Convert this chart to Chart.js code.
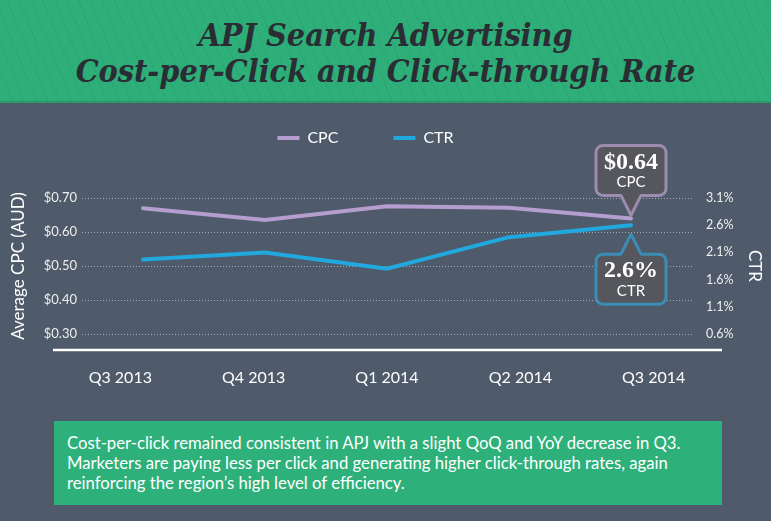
<!DOCTYPE html>
<html>
<head>
<meta charset="utf-8">
<title>APJ Search Advertising</title>
<script src="https://cdn.jsdelivr.net/npm/chart.js@4.4.0/dist/chart.umd.min.js"></script>
<style>
  html, body { margin: 0; padding: 0; width: 771px; height: 521px; overflow: hidden; background: #4f5a6a; font-family: Lato, "Open Sans", sans-serif; }
  #header {
    position: absolute; left: 0; top: 0; width: 771px; height: 101px;
    border-bottom: 2px solid #289a69;
    background-color: #2eae79;
    background-image: repeating-linear-gradient(68deg, rgba(0,0,0,0.05) 0 1px, transparent 1px 11px);
  }
  #header h1 {
    margin: 0; padding-top: 17px; text-align: center;
    font-family: "DejaVu Serif Condensed", "DejaVu Serif", serif;
    font-style: italic; font-weight: bold; font-size: 32px; line-height: 36px; color: #2a2d33;
  }
  #wrap { position: absolute; left: -40px; top: 75px; width: 811px; height: 340px; }
  #note {
    position: absolute; left: 54px; top: 421px; width: 668px; height: 84px; box-sizing: border-box;
    padding: 12px 0 0 13px; background: #2eb07a; color: #fff; font-size: 16.7px; line-height: 20px;
  }
</style>
</head>
<body>
<div id="header"><h1>APJ Search Advertising<br>Cost-per-Click and Click-through Rate</h1></div>
<div id="wrap"><canvas id="chart"></canvas></div>
<div id="note">Cost-per-click remained consistent in APJ with a slight QoQ and YoY decrease in Q3.<br>Marketers are paying less per click and generating higher click-through rates, again<br>reinforcing the region’s high level of efficiency.</div>
<script>
const quarters = ['Q3 2013', 'Q4 2013', 'Q1 2014', 'Q2 2014', 'Q3 2014'];
const cpc = [0.67, 0.635, 0.676, 0.671, 0.64];
const ctr = [1.97, 2.1, 1.8, 2.38, 2.6];
const cpcTicks = [0.3, 0.4, 0.5, 0.6, 0.7];
const ctrTicks = [0.6, 1.1, 1.6, 2.1, 2.6, 3.1];

// quarter labels sit a bit wider apart than the points
const labelSpread = 1.093;

function drawCallout(ctx, px, tipY, dir, border, big, small) {
  const w = 70, h = 50, r = 7, pw = 20, ph = 20;
  const x0 = px - w / 2, x1 = px + w / 2;
  const near = tipY + dir * ph;
  const far = near + dir * h;
  const top = Math.min(near, far);
  ctx.beginPath();
  ctx.moveTo(px, tipY);
  ctx.lineTo(px + pw / 2, near);
  ctx.arcTo(x1, near, x1, far, r);
  ctx.arcTo(x1, far, x0, far, r);
  ctx.arcTo(x0, far, x0, near, r);
  ctx.arcTo(x0, near, px, near, r);
  ctx.lineTo(px - pw / 2, near);
  ctx.closePath();
  ctx.fillStyle = '#55575d';
  ctx.fill();
  ctx.lineWidth = 3;
  ctx.lineJoin = 'round';
  ctx.strokeStyle = border;
  ctx.stroke();
  ctx.fillStyle = '#ffffff';
  ctx.textAlign = 'center';
  ctx.textBaseline = 'middle';
  ctx.font = 'bold 24px "Liberation Serif", serif';
  ctx.fillText(big, px, top + 17);
  ctx.font = '15px Lato, sans-serif';
  ctx.fillText(small, px, top + 37);
}

const callouts = {
  id: 'callouts',
  afterDatasetsDraw(chart) {
    const ctx = chart.ctx;
    const area = chart.chartArea;
    ctx.save();
    // white base line, wider than the plot
    ctx.strokeStyle = '#ffffff';
    ctx.lineWidth = 2.5;
    ctx.beginPath();
    ctx.moveTo(area.left - 29, area.bottom + 16);
    ctx.lineTo(area.right + 30, area.bottom + 16);
    ctx.stroke();

    const last = quarters.length - 1;
    const p1 = chart.getDatasetMeta(0).data[last];
    const p2 = chart.getDatasetMeta(1).data[last];
    drawCallout(ctx, p1.x, p1.y - 3, -1, '#9d8bb0', '$' + cpc[last].toFixed(2), 'CPC');
    drawCallout(ctx, p2.x, p2.y + 9, 1, '#3a8db5', ctr[last].toFixed(1) + '%', 'CTR');
    ctx.restore();
  }
};

const legendGap = {
  id: 'legendGap',
  beforeInit(chart) {
    const fit = chart.legend.fit;
    chart.legend.fit = function () {
      fit.bind(chart.legend)();
      this.height += 42;
    };
  }
};

new Chart(document.getElementById('chart'), {
  type: 'line',
  data: {
    labels: quarters,
    datasets: [{
      label: 'CPC',
      data: cpc,
      yAxisID: 'y',
      borderColor: '#b59ecf',
      backgroundColor: '#b59ecf',
      borderWidth: 4,
      borderCapStyle: 'round',
      pointRadius: 0,
      tension: 0
    }, {
      label: 'CTR',
      data: ctr,
      yAxisID: 'y1',
      borderColor: '#21a8df',
      backgroundColor: '#21a8df',
      borderWidth: 4,
      borderCapStyle: 'round',
      pointRadius: 0,
      tension: 0
    }]
  },
  options: {
    responsive: true,
    maintainAspectRatio: false,
    animation: false,
    layout: { padding: 0 },
    plugins: {
      legend: {
        labels: {
          color: '#ffffff',
          font: { family: 'Lato', size: 16 },
          usePointStyle: true,
          pointStyle: 'line',
          pointStyleWidth: 22,
          padding: 55
        }
      },
      tooltip: { enabled: false }
    },
    scales: {
      x: { display: false, offset: true },
      xl: {
        type: 'linear',
        position: 'bottom',
        min: -0.5,
        max: 4.5,
        grid: { display: false },
        border: { display: false },
        afterBuildTicks(axis) {
          axis.ticks = quarters.map((q, i) => ({ value: 2 + (i - 2) * labelSpread }));
        },
        ticks: {
          padding: 26,
          color: '#ffffff',
          font: { family: 'Lato', size: 16 },
          autoSkip: false,
          maxRotation: 0,
          callback: (v, i) => quarters[i]
        },
        afterFit(axis) { axis.height = 81; }
      },
      y: {
        position: 'left',
        min: cpcTicks[0],
        max: cpcTicks[cpcTicks.length - 1],
        afterBuildTicks(axis) { axis.ticks = cpcTicks.map(v => ({ value: v })); },
        grid: { color: 'rgba(255,255,255,0.5)', drawTicks: false, lineWidth: 1 },
        border: { display: false, dash: [1, 2] },
        ticks: {
          padding: 5,
          color: '#eeeeee',
          font: { family: 'Lato', size: 13 },
          callback: v => '$' + v.toFixed(2)
        },
        title: {
          display: true,
          text: 'Average CPC (AUD)',
          color: '#ffffff',
          font: { family: 'Lato', size: 17 },
          padding: { top: 48, bottom: 0 }
        },
        afterFit(axis) { axis.width = 122; }
      },
      y1: {
        position: 'right',
        min: ctrTicks[0],
        max: ctrTicks[ctrTicks.length - 1],
        afterBuildTicks(axis) { axis.ticks = ctrTicks.map(v => ({ value: v })); },
        grid: { display: false },
        border: { display: false },
        ticks: {
          padding: 6,
          color: '#eeeeee',
          font: { family: 'Lato', size: 12.5 },
          callback: v => v.toFixed(1) + '%'
        },
        title: {
          display: true,
          text: 'CTR',
          color: '#ffffff',
          font: { family: 'Lato', size: 17 },
          padding: { top: 6, bottom: 0 }
        },
        afterFit(axis) { axis.width = 79; }
      }
    }
  },
  plugins: [legendGap, callouts]
});
</script>
</body>
</html>
